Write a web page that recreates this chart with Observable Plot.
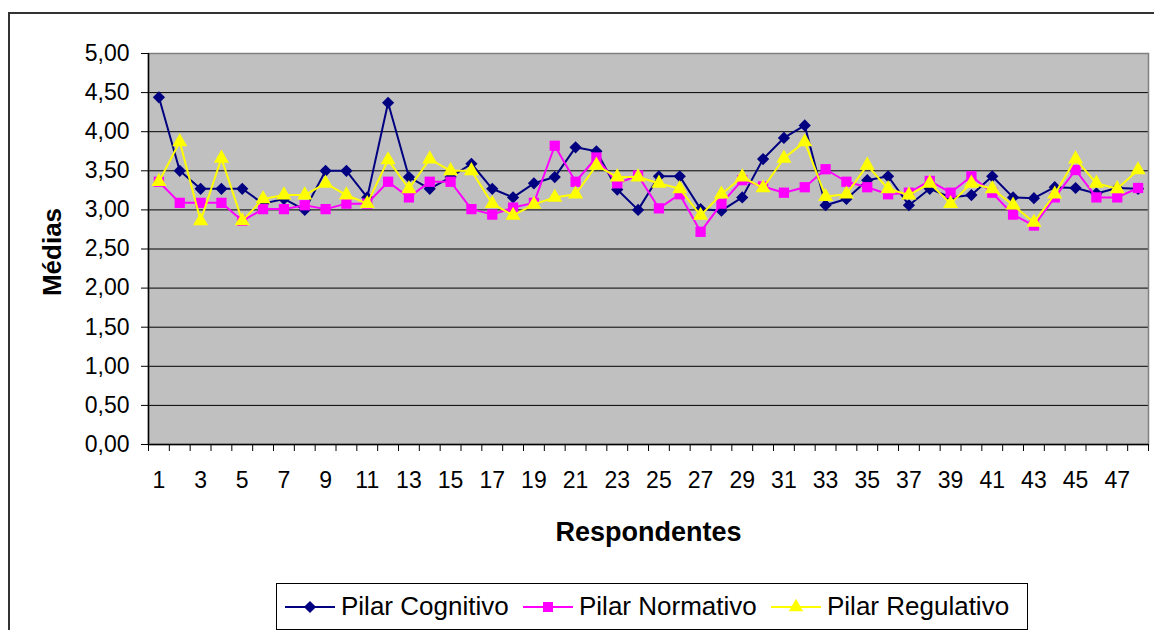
<!DOCTYPE html>
<html>
<head>
<meta charset="utf-8">
<script src="https://cdn.jsdelivr.net/npm/d3@7"></script>
<script src="https://cdn.jsdelivr.net/npm/@observablehq/plot@0.6"></script>
<style>
  html, body { margin: 0; padding: 0; background: #fff; overflow: hidden; }
  body { font-family: "Liberation Sans", Arial, sans-serif; width: 1154px; height: 630px; position: relative; }
  #outer { position: absolute; left: 8px; top: 12px; width: 1300px; height: 800px; border-left: 2px solid #333; border-top: 2px solid #333; pointer-events: none; }
  #chart { position: absolute; left: 0; top: 0; }
  #legend { position: absolute; left: 276px; top: 583px; width: 752px; height: 47px; border: 1px solid #000; box-sizing: border-box; background: #fff; }
  .item { position: absolute; top: 0; height: 45px; display: flex; align-items: center; font-size: 26px; color: #000; }
  .item svg { margin-right: 6px; }
</style>
</head>
<body>
<div id="chart"></div>
<div id="legend"></div>
<div id="outer"></div>
<script>
// ---- data ----
const respondentes = [1,2,3,4,5,6,7,8,9,10,11,12,13,14,15,16,17,18,19,20,21,22,23,24,25,26,27,28,29,30,31,32,33,34,35,36,37,38,39,40,41,42,43,44,45,46,47,48];
const cognitivo = [4.44,3.50,3.27,3.27,3.27,3.08,3.14,3.00,3.50,3.50,3.16,4.37,3.42,3.27,3.42,3.59,3.27,3.16,3.34,3.42,3.80,3.75,3.26,3.00,3.43,3.43,3.01,2.99,3.16,3.65,3.92,4.08,3.06,3.14,3.38,3.43,3.06,3.27,3.16,3.19,3.43,3.16,3.15,3.29,3.28,3.21,3.28,3.27];
const normativo = [3.36,3.09,3.09,3.09,2.86,3.01,3.01,3.06,3.01,3.08,3.08,3.36,3.16,3.36,3.36,3.01,2.94,3.03,3.09,3.82,3.36,3.67,3.34,3.44,3.02,3.20,2.72,3.08,3.38,3.30,3.22,3.29,3.52,3.36,3.29,3.20,3.22,3.37,3.22,3.43,3.22,2.94,2.80,3.16,3.51,3.16,3.16,3.28];
const regulativo = [3.36,3.87,2.86,3.66,2.86,3.14,3.19,3.19,3.34,3.19,3.08,3.64,3.27,3.65,3.50,3.50,3.08,2.93,3.07,3.16,3.20,3.57,3.42,3.42,3.34,3.27,2.93,3.20,3.42,3.28,3.66,3.87,3.17,3.20,3.57,3.27,3.19,3.34,3.08,3.34,3.27,3.06,2.84,3.20,3.65,3.34,3.27,3.51];
const seriesNames = ["Pilar Cognitivo", "Pilar Normativo", "Pilar Regulativo"];
const seriesColors = ["#000080", "#FF00FF", "#FFFF00"];
const seriesSymbols = ["diamond2", "square", "triangle"];
const yTicks = [0, 0.5, 1, 1.5, 2, 2.5, 3, 3.5, 4, 4.5, 5];
const xTickLabels = [1,3,5,7,9,11,13,15,17,19,21,23,25,27,29,31,33,35,37,39,41,43,45,47];
const yLabel = "Médias";
const xLabel = "Respondentes";

const seriesValues = [cognitivo, normativo, regulativo];
const xBoundaries = respondentes.map(r => r - 0.5).concat([respondentes[respondentes.length - 1] + 0.5]);
const fmt = d => d.toFixed(2).replace(".", ",");

const marks = [
  Plot.frame({fill: "#C0C0C0", stroke: null}),
  Plot.gridY(yTicks.filter(t => t > 0 && t < 5), {stroke: "#000", strokeOpacity: 1, strokeWidth: 1}),
  Plot.frame({stroke: "#808080", strokeWidth: 1.5}),
  Plot.ruleY([0], {stroke: "#000", strokeWidth: 1.5}),
  Plot.ruleX([0.5], {stroke: "#000", strokeWidth: 1.5}),
  Plot.axisY({ticks: yTicks, tickFormat: fmt, tickSize: 7, tickPadding: 12, fontSize: 23, label: null, stroke: "#000"}),
  Plot.axisX({ticks: xBoundaries, tickFormat: () => "", tickSize: 7, label: null, stroke: "#000"}),
  Plot.axisX({ticks: xTickLabels, tickSize: 0, tickPadding: 27, fontSize: 23, label: null, tickFormat: d => String(d)}),
  Plot.text([yLabel], {frameAnchor: "left", dx: -96, dy: 3, rotate: -90, textAnchor: "middle", lineAnchor: "middle", fontSize: 26, fontWeight: "bold", fill: "#000"}),
  Plot.text([xLabel], {frameAnchor: "bottom", dy: 88, textAnchor: "middle", lineAnchor: "middle", fontSize: 27, fontWeight: "bold", fill: "#000"})
];

seriesValues.forEach((vals, i) => {
  const rows = respondentes.map((r, j) => ({r, v: vals[j]}));
  marks.push(Plot.line(rows, {x: "r", y: "v", stroke: seriesColors[i], strokeWidth: 2}));
  marks.push(Plot.dot(rows, {x: "r", y: "v", symbol: seriesSymbols[i], fill: seriesColors[i], stroke: "none", r: i === 1 ? 5.8 : (i === 0 ? 5.5 : 5.6)}));
});

const chart = Plot.plot({
  width: 1154,
  height: 583,
  marginLeft: 148,
  marginRight: 6,
  marginTop: 53,
  marginBottom: 139,
  style: {fontFamily: "'Liberation Sans', Arial, sans-serif", color: "#000", background: "transparent", overflow: "visible"},
  x: {type: "linear", domain: [0.5, 48.5]},
  y: {domain: [0, 5]},
  marks
});
document.getElementById("chart").appendChild(chart);

// ---- legend ----
const legend = document.getElementById("legend");
const itemLefts = [8, 246, 494];
seriesNames.forEach((name, i) => {
  const item = document.createElement("div");
  item.className = "item";
  item.style.left = itemLefts[i] + "px";
  const ns = "http://www.w3.org/2000/svg";
  const svg = document.createElementNS(ns, "svg");
  svg.setAttribute("width", 50);
  svg.setAttribute("height", 20);
  const line = document.createElementNS(ns, "line");
  line.setAttribute("x1", 0); line.setAttribute("x2", 50);
  line.setAttribute("y1", 10); line.setAttribute("y2", 10);
  line.setAttribute("stroke", seriesColors[i]); line.setAttribute("stroke-width", 2);
  svg.appendChild(line);
  const sym = [d3.symbolDiamond2, d3.symbolSquare, d3.symbolTriangle][i];
  const path = document.createElementNS(ns, "path");
  path.setAttribute("d", d3.symbol(sym, [95, 100, 90][i])());
  path.setAttribute("transform", "translate(25,10)");
  path.setAttribute("fill", seriesColors[i]);
  svg.appendChild(path);
  item.appendChild(svg);
  const span = document.createElement("span");
  span.textContent = name;
  item.appendChild(span);
  legend.appendChild(item);
});
</script>
</body>
</html>
